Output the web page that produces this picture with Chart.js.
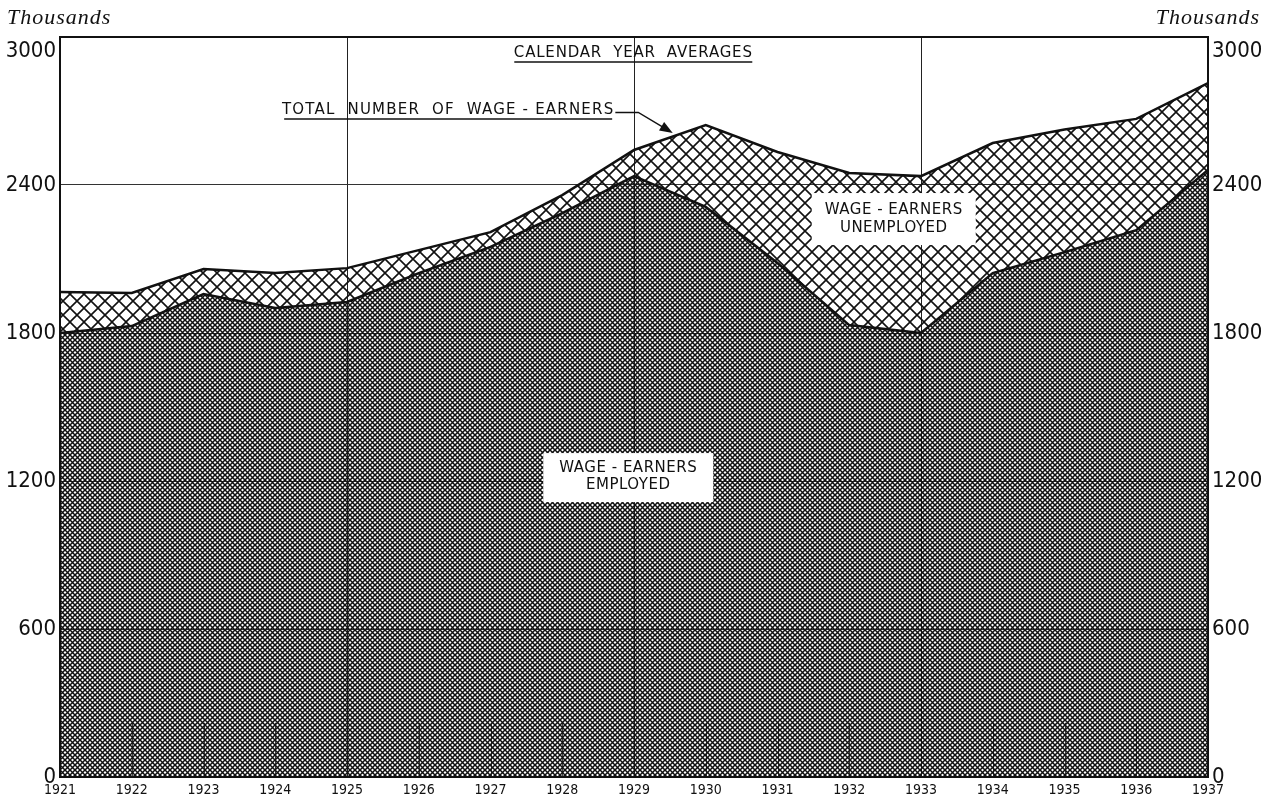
<!DOCTYPE html>
<html lang="en">
<head>
<meta charset="UTF-8">
<title>Wage-earners employed and unemployed, 1921-1937</title>
<script src="https://cdn.jsdelivr.net/npm/chart.js@4"></script>
<style>
  html, body { margin: 0; padding: 0; background: #fff; }
  #wrap { width: 1277px; height: 803px; }
</style>
</head>
<body>
<div id="wrap"><canvas id="chartWage" width="1277" height="803"></canvas></div>
<script>
// calendar year averages, thousands
const years = [1921, 1922, 1923, 1924, 1925, 1926, 1927, 1928, 1929,
               1930, 1931, 1932, 1933, 1934, 1935, 1936, 1937];
const employed = [1800, 1828, 1958, 1901, 1926, 2043, 2149, 2286, 2436,
                  2311, 2084, 1832, 1800, 2043, 2128, 2217, 2461];
const totalWageEarners = [1966, 1962, 2059, 2043, 2063, 2136, 2209, 2359, 2542,
                          2643, 2534, 2449, 2436, 2570, 2625, 2668, 2813];
const yTickStep = 600;
const yMax = 3000;

const labelFont = '"DejaVu Sans Condensed", "DejaVu Sans", sans-serif';
const noteFont = '"DejaVu Sans", sans-serif';

// hatching tiles (transparent background so the grid shows through)
function hatch(p, lw) {
  const c = document.createElement('canvas');
  c.width = p; c.height = p;
  const g = c.getContext('2d');
  g.strokeStyle = '#111';
  g.lineWidth = lw;
  for (const k of [-p, 0, p]) {
    g.beginPath();
    g.moveTo(k, 0); g.lineTo(k + p, p);
    g.moveTo(k, p); g.lineTo(k + p, 0);
    g.stroke();
  }
  return g.createPattern(c, 'repeat');
}
const finePattern = hatch(5, 1.5);
const coarsePattern = hatch(14, 1.6);

function drawText(ctx, lines, cx, cy, lh, spacing) {
  ctx.letterSpacing = spacing + 'px';
  lines.forEach((t, i) => {
    ctx.fillText(t, cx, cy + (i - (lines.length - 1) / 2) * lh);
  });
  ctx.letterSpacing = '0px';
}

const annotate = {
  id: 'annotate',
  beforeDatasetsDraw(chart) {
    // short year marks along the bottom
    const { ctx, scales: { x, y } } = chart;
    ctx.save();
    ctx.strokeStyle = '#444';
    ctx.lineWidth = 1;
    years.forEach(yr => {
      if ((yr - 1921) % 4 === 0) return;
      const px = Math.round(x.getPixelForValue(yr)) + 0.5;
      ctx.beginPath();
      ctx.moveTo(px, y.getPixelForValue(0));
      ctx.lineTo(px, y.getPixelForValue(220));
      ctx.stroke();
    });
    ctx.restore();
  },
  afterDatasetsDraw(chart) {
    const { ctx, chartArea: a, scales: { x, y } } = chart;
    ctx.save();

    // frame
    ctx.strokeStyle = '#111';
    ctx.lineWidth = 2;
    ctx.strokeRect(a.left, a.top, a.right - a.left, a.bottom - a.top);

    ctx.fillStyle = '#111';
    ctx.textAlign = 'center';
    ctx.textBaseline = 'middle';
    ctx.font = '15px ' + noteFont;

    // white boxes
    let cx = x.getPixelForValue(1928.92), cy = y.getPixelForValue(1216);
    ctx.fillStyle = '#fff';
    ctx.fillRect(cx - 85, cy - 24, 170, 49);
    ctx.fillStyle = '#111';
    drawText(ctx, ['WAGE - EARNERS', 'EMPLOYED'], cx, cy, 17, 0.5);

    cx = x.getPixelForValue(1932.62); cy = y.getPixelForValue(2262);
    ctx.fillStyle = '#fff';
    ctx.fillRect(cx - 82, cy - 26, 164, 52);
    ctx.fillStyle = '#111';
    drawText(ctx, ['WAGE - EARNERS', 'UNEMPLOYED'], cx, cy, 18, 0.5);

    // title, underlined
    ctx.lineWidth = 1.4;
    cx = x.getPixelForValue(1928.99); cy = y.getPixelForValue(2935);
    drawText(ctx, ['CALENDAR  YEAR  AVERAGES'], cx, cy, 0, 0.8);
    ctx.beginPath();
    ctx.moveTo(cx - 119, cy + 9); ctx.lineTo(cx + 119, cy + 9);
    ctx.stroke();

    // total label with leader arrow
    cx = x.getPixelForValue(1926.41); cy = y.getPixelForValue(2704);
    drawText(ctx, ['TOTAL  NUMBER  OF  WAGE - EARNERS'], cx, cy, 0, 1.2);
    ctx.beginPath();
    ctx.moveTo(cx - 164, cy + 9); ctx.lineTo(cx + 164, cy + 9);
    ctx.stroke();

    const sx = x.getPixelForValue(1928.74), sy = y.getPixelForValue(2694);
    const mx = x.getPixelForValue(1929.06);
    const tx = x.getPixelForValue(1929.54), ty = y.getPixelForValue(2611);
    const ang = Math.atan2(ty - sy, tx - mx);
    ctx.beginPath();
    ctx.moveTo(sx, sy); ctx.lineTo(mx, sy);
    ctx.lineTo(tx - 10 * Math.cos(ang), ty - 10 * Math.sin(ang));
    ctx.stroke();
    ctx.beginPath();
    ctx.moveTo(tx, ty);
    ctx.lineTo(tx - 13 * Math.cos(ang) + 5 * Math.sin(ang), ty - 13 * Math.sin(ang) - 5 * Math.cos(ang));
    ctx.lineTo(tx - 13 * Math.cos(ang) - 5 * Math.sin(ang), ty - 13 * Math.sin(ang) + 5 * Math.cos(ang));
    ctx.closePath();
    ctx.fill();

    ctx.restore();
  },
  afterDraw(chart) {
    const { ctx, chartArea: a } = chart;
    ctx.save();
    ctx.fillStyle = '#111';
    ctx.font = 'italic 22px "Liberation Serif", serif';
    ctx.textBaseline = 'alphabetic';
    ctx.letterSpacing = '1px';
    ctx.textAlign = 'left';
    ctx.fillText('Thousands', 7, 24);
    ctx.textAlign = 'right';
    ctx.fillText('Thousands', 1260, 24);
    ctx.letterSpacing = '0px';
    // top tick labels sit just under the frame in the original
    ctx.font = '22px ' + labelFont;
    ctx.textBaseline = 'middle';
    ctx.textAlign = 'right';
    ctx.fillText(String(yMax), a.left - 4, a.top + 14);
    ctx.textAlign = 'left';
    ctx.fillText(String(yMax), a.right + 4, a.top + 14);
    ctx.restore();
  }
};

const tickText = v => (v === yMax ? '' : String(v));

new Chart(document.getElementById('chartWage'), {
  type: 'line',
  data: {
    datasets: [
      {
        label: 'Wage-earners employed',
        data: years.map((yr, i) => ({ x: yr, y: employed[i] })),
        borderColor: '#111',
        borderWidth: 2.5,
        backgroundColor: finePattern,
        fill: 'origin',
        pointRadius: 0,
        tension: 0
      },
      {
        label: 'Total number of wage-earners',
        data: years.map((yr, i) => ({ x: yr, y: totalWageEarners[i] })),
        borderColor: '#111',
        borderWidth: 2.5,
        backgroundColor: coarsePattern,
        fill: '-1',
        pointRadius: 0,
        tension: 0
      }
    ]
  },
  options: {
    responsive: false,
    animation: false,
    layout: { padding: { top: 37, left: 0, right: 0, bottom: 0 } },
    plugins: {
      legend: { display: false },
      tooltip: { enabled: false }
    },
    scales: {
      x: {
        type: 'linear',
        min: 1921,
        max: 1937,
        afterFit: s => { s.height = 26; },
        grid: {
          drawTicks: false,
          color: c => ((c.tick.value - 1921) % 4 === 0 ? '#222' : 'rgba(0,0,0,0)'),
          lineWidth: 1
        },
        border: { display: true, color: '#111', width: 2 },
        ticks: {
          stepSize: 1,
          autoSkip: false,
          maxRotation: 0,
          padding: 5,
          color: '#111',
          font: { family: labelFont, size: 14 },
          callback: v => String(v)
        }
      },
      y: {
        position: 'left',
        min: 0,
        max: yMax,
        afterFit: s => { s.width = 60; },
        grid: { drawTicks: false, color: '#333', lineWidth: 1 },
        border: { display: true, color: '#111', width: 2 },
        ticks: {
          stepSize: yTickStep,
          padding: 4,
          color: '#111',
          font: { family: labelFont, size: 22 },
          callback: tickText
        }
      },
      y2: {
        position: 'right',
        min: 0,
        max: yMax,
        afterFit: s => { s.width = 69; },
        grid: { display: false, drawTicks: false },
        border: { display: true, color: '#111', width: 2 },
        ticks: {
          stepSize: yTickStep,
          padding: 4,
          color: '#111',
          font: { family: labelFont, size: 22 },
          callback: tickText
        }
      }
    }
  },
  plugins: [annotate]
});
</script>
</body>
</html>
